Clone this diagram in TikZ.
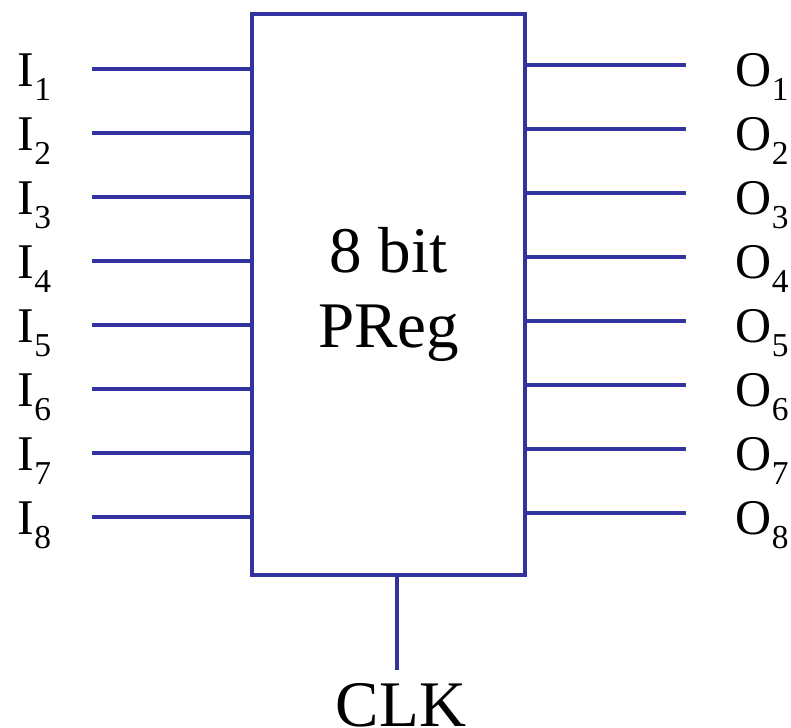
\documentclass[tikz,border=0pt]{standalone}
\usepackage{fontspec}
\setmainfont{Liberation Serif}
\usepackage{tikz}
\usetikzlibrary{calc,positioning}

\definecolor{wireblue}{HTML}{3333A0}

\newcommand{\pinname}[2]{#1\raisebox{-3.7pt}{\fontsize{9.5}{10}\selectfont #2}}

\begin{document}
\begin{tikzpicture}[x=0.01cm,y=-0.01cm]

\tikzset{
  regbox/.style={rectangle, draw=wireblue, line width=1.3pt,
                 minimum width=2.73cm, minimum height=5.61cm,
                 inner sep=0pt, outer sep=0pt, align=center,
                 font=\fontsize{18.5}{21.3}\selectfont},
  wire/.style={wireblue, line width=1.3pt},
  pinlabel/.style={inner sep=0pt, font=\fontsize{14.2}{16}\selectfont},
  clklabel/.style={inner sep=0pt, font=\fontsize{18.5}{21}\selectfont}
}

\useasboundingbox (0,0) rectangle (791,728);

% Register
\node[regbox] (reg) at (388.5,294.5) {8 bit\\PReg};

% Input ends
\coordinate (i1) at (92,69);
\coordinate (i2) at (92,133);
\coordinate (i3) at (92,197);
\coordinate (i4) at (92,261);
\coordinate (i5) at (92,325);
\coordinate (i6) at (92,389);
\coordinate (i7) at (92,453);
\coordinate (i8) at (92,517);

% Output ends
\coordinate (o1) at (686,65);
\coordinate (o2) at (686,129);
\coordinate (o3) at (686,193);
\coordinate (o4) at (686,257);
\coordinate (o5) at (686,321);
\coordinate (o6) at (686,385);
\coordinate (o7) at (686,449);
\coordinate (o8) at (686,513);

% Clock end
\coordinate (clk) at (397,670);

% Input labels
\node[pinlabel, anchor=base west] (li1) at (17,87)  {\pinname{I}{1}};
\node[pinlabel, anchor=base west] (li2) at (17,151) {\pinname{I}{2}};
\node[pinlabel, anchor=base west] (li3) at (17,215) {\pinname{I}{3}};
\node[pinlabel, anchor=base west] (li4) at (17,279) {\pinname{I}{4}};
\node[pinlabel, anchor=base west] (li5) at (17,343) {\pinname{I}{5}};
\node[pinlabel, anchor=base west] (li6) at (17,407) {\pinname{I}{6}};
\node[pinlabel, anchor=base west] (li7) at (17,471) {\pinname{I}{7}};
\node[pinlabel, anchor=base west] (li8) at (17,535) {\pinname{I}{8}};

% Output labels
\node[pinlabel, anchor=base west] (lo1) at (735,87)  {\pinname{O}{1}};
\node[pinlabel, anchor=base west] (lo2) at (735,151) {\pinname{O}{2}};
\node[pinlabel, anchor=base west] (lo3) at (735,215) {\pinname{O}{3}};
\node[pinlabel, anchor=base west] (lo4) at (735,279) {\pinname{O}{4}};
\node[pinlabel, anchor=base west] (lo5) at (735,343) {\pinname{O}{5}};
\node[pinlabel, anchor=base west] (lo6) at (735,407) {\pinname{O}{6}};
\node[pinlabel, anchor=base west] (lo7) at (735,471) {\pinname{O}{7}};
\node[pinlabel, anchor=base west] (lo8) at (735,535) {\pinname{O}{8}};

\node[clklabel, anchor=base] (lclk) at (401,726) {CLK};

% Wires
\draw[wire] (i1) -- (i1 -| reg.west);
\draw[wire] (i2) -- (i2 -| reg.west);
\draw[wire] (i3) -- (i3 -| reg.west);
\draw[wire] (i4) -- (i4 -| reg.west);
\draw[wire] (i5) -- (i5 -| reg.west);
\draw[wire] (i6) -- (i6 -| reg.west);
\draw[wire] (i7) -- (i7 -| reg.west);
\draw[wire] (i8) -- (i8 -| reg.west);

\draw[wire] (o1 -| reg.east) -- (o1);
\draw[wire] (o2 -| reg.east) -- (o2);
\draw[wire] (o3 -| reg.east) -- (o3);
\draw[wire] (o4 -| reg.east) -- (o4);
\draw[wire] (o5 -| reg.east) -- (o5);
\draw[wire] (o6 -| reg.east) -- (o6);
\draw[wire] (o7 -| reg.east) -- (o7);
\draw[wire] (o8 -| reg.east) -- (o8);

\draw[wire] (clk |- reg.south) -- (clk);

\end{tikzpicture}
\end{document}
